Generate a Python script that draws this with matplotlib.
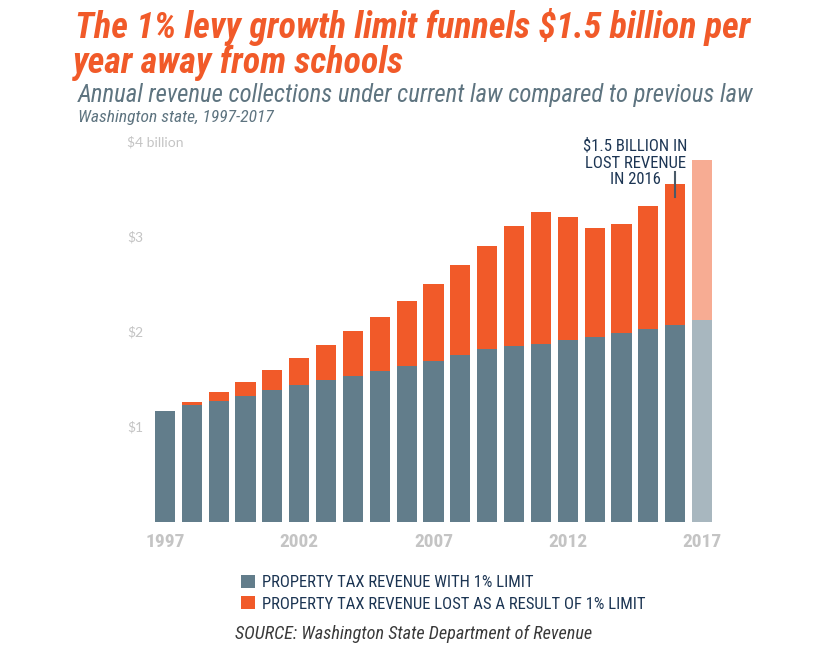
import matplotlib
matplotlib.use("Agg")
import matplotlib.pyplot as plt
import matplotlib.font_manager as fm
from matplotlib.colors import to_rgba
from matplotlib.patches import Patch
from matplotlib.transforms import blended_transform_factory

# ---------------- data ----------------
years = list(range(1997, 2018))
with_limit = [1.17, 1.23, 1.27, 1.33, 1.39, 1.44, 1.50, 1.54, 1.59, 1.64, 1.70,
              1.76, 1.82, 1.85, 1.87, 1.92, 1.95, 1.99, 2.03, 2.07, 2.13]
lost = [0.00, 0.03, 0.10, 0.14, 0.21, 0.29, 0.36, 0.47, 0.57, 0.69, 0.81,
        0.95, 1.09, 1.27, 1.39, 1.29, 1.15, 1.15, 1.30, 1.49, 1.68]
projected_year = 2017
xtick_years = [1997, 2002, 2007, 2012, 2017]
ytick_vals = [1, 2, 3, 4]
ytick_labels = ["$1", "$2", "$3", "$4 billion"]
legend_labels = ["PROPERTY TAX REVENUE WITH 1% LIMIT",
                 "PROPERTY TAX REVENUE LOST AS A RESULT OF 1% LIMIT"]
title_lines = ["The 1% levy growth limit funnels $1.5 billion per",
               "year away from schools"]
subtitle = "Annual revenue collections under current law compared to previous law"
subsubtitle = "Washington state, 1997-2017"
source = "SOURCE: Washington State Department of Revenue"
annot_year = 2016
annot_text = "$1.5 BILLION IN\nLOST REVENUE\nIN 2016"

# ---------------- style ----------------
GRAY = "#627d8b"
ORANGE = "#f15a29"
NAVY = "#1c3553"
SLATE = "#5e7480"
LIGHT = "#c4c4c4"

names = {f.name for f in fm.fontManager.ttflist}
def pick(*c):
    for n in c:
        if n in names:
            return n
    return "DejaVu Sans"
NARROW = pick("Liberation Sans Narrow", "Roboto Condensed", "Open Sans Condensed", "Roboto", "Lato")
SANS = pick("Lato", "Roboto", "Open Sans")

W, H = 840, 648
fig = plt.figure(figsize=(8.4, 6.48), dpi=100)
fig.patch.set_facecolor("white")

def fx(px):
    return px / W
def fy(py):
    return 1 - py / H

# axes: x px 130..730, y px 130..522 ; bar centers at 165 + 26.85*(yr-1997)
ax = fig.add_axes([fx(130), fy(522), fx(730) - fx(130), fy(130) - fy(522)])
ax.set_xlim(1997 + (130 - 165) / 26.85, 1997 + (730 - 165) / 26.85)
ax.set_ylim(0, 392 / 95)

gray_cols = [to_rgba(GRAY, 0.55 if y == projected_year else 1.0) for y in years]
orng_cols = [to_rgba(ORANGE, 0.5 if y == projected_year else 1.0) for y in years]
ax.bar(years, with_limit, width=0.75, color=gray_cols, linewidth=0)
ax.bar(years, lost, bottom=with_limit, width=0.75, color=orng_cols, linewidth=0)

for s in ax.spines.values():
    s.set_visible(False)
ax.set_yticks([])
ax.set_xticks(xtick_years)
ax.set_xticklabels([str(y) for y in xtick_years], fontsize=14, fontweight="bold",
                   color=LIGHT, family=[NARROW, "DejaVu Sans"])
ax.tick_params(axis="x", length=0, pad=8)

tr = blended_transform_factory(fig.transFigure, ax.transData)
for v, lab in zip(ytick_vals, ytick_labels):
    ax.text(fx(127), v, lab, transform=tr, ha="left", va="center",
            fontsize=10, color=LIGHT, family=[SANS, "DejaVu Sans"])

# annotation
i16 = years.index(annot_year)
tot16 = with_limit[i16] + lost[i16]
ax.plot([annot_year, annot_year], [tot16 + 0.12, tot16 - 0.14], color="#4a5a68", lw=1.5)
ann = ax.text(annot_year - 1.49, 3.78, annot_text, ha="center", va="center",
              fontsize=11, color=NAVY, linespacing=1.15, family=[NARROW, "DejaVu Sans"])

# titles
t1 = fig.text(fx(75), fy(38), title_lines[0], fontsize=25, fontweight="bold", style="italic",
              color=ORANGE, ha="left", va="baseline", family=[NARROW, "DejaVu Sans"])
t2 = fig.text(fx(73), fy(73), title_lines[1], fontsize=25, fontweight="bold", style="italic",
              color=ORANGE, ha="left", va="baseline", family=[NARROW, "DejaVu Sans"])
t3 = fig.text(fx(78), fy(102), subtitle, fontsize=16, style="italic",
              color=SLATE, ha="left", va="baseline", family=[NARROW, "DejaVu Sans"])
t4 = fig.text(fx(78), fy(122), subsubtitle, fontsize=12, style="italic",
              color=SLATE, ha="left", va="baseline", family=[NARROW, "DejaVu Sans"])
t5 = fig.text(fx(235), fy(639), source, fontsize=12.5, style="italic",
              color="#3a3a3a", ha="left", va="baseline", family=[NARROW, "DejaVu Sans"])

fig.canvas.draw()
r = fig.canvas.get_renderer()
def fit(t, target, grow=1.25):
    w = t.get_window_extent(r).width
    f = min(target / w, grow)
    t.set_fontsize(t.get_fontsize() * f)

fit(t1, 677)
fit(t3, 680)
fit(t4, 209, grow=1.05)
fit(t5, 359)
fit(ann, 104)
t2.set_fontsize(t1.get_fontsize())

# legend
probe = fig.text(0, 0, legend_labels[1], fontsize=11, family=[NARROW, "DejaVu Sans"])
wl = probe.get_window_extent(r).width
leg_fs = min(13, 11 * 382 / wl)
probe.remove()
handles = [Patch(facecolor=GRAY, edgecolor="none"), Patch(facecolor=ORANGE, edgecolor="none")]
leg = ax.legend(handles, legend_labels, loc="upper left",
                bbox_to_anchor=(fx(241), fy(575)), bbox_transform=fig.transFigure,
                frameon=False, handlelength=0.85, handleheight=0.85, handletextpad=0.4,
                labelspacing=0.35, borderpad=0, borderaxespad=0,
                prop={"family": [NARROW, "DejaVu Sans"], "size": leg_fs},
                labelcolor=NAVY)

fig.savefig("out.png", dpi=100, facecolor="white")
